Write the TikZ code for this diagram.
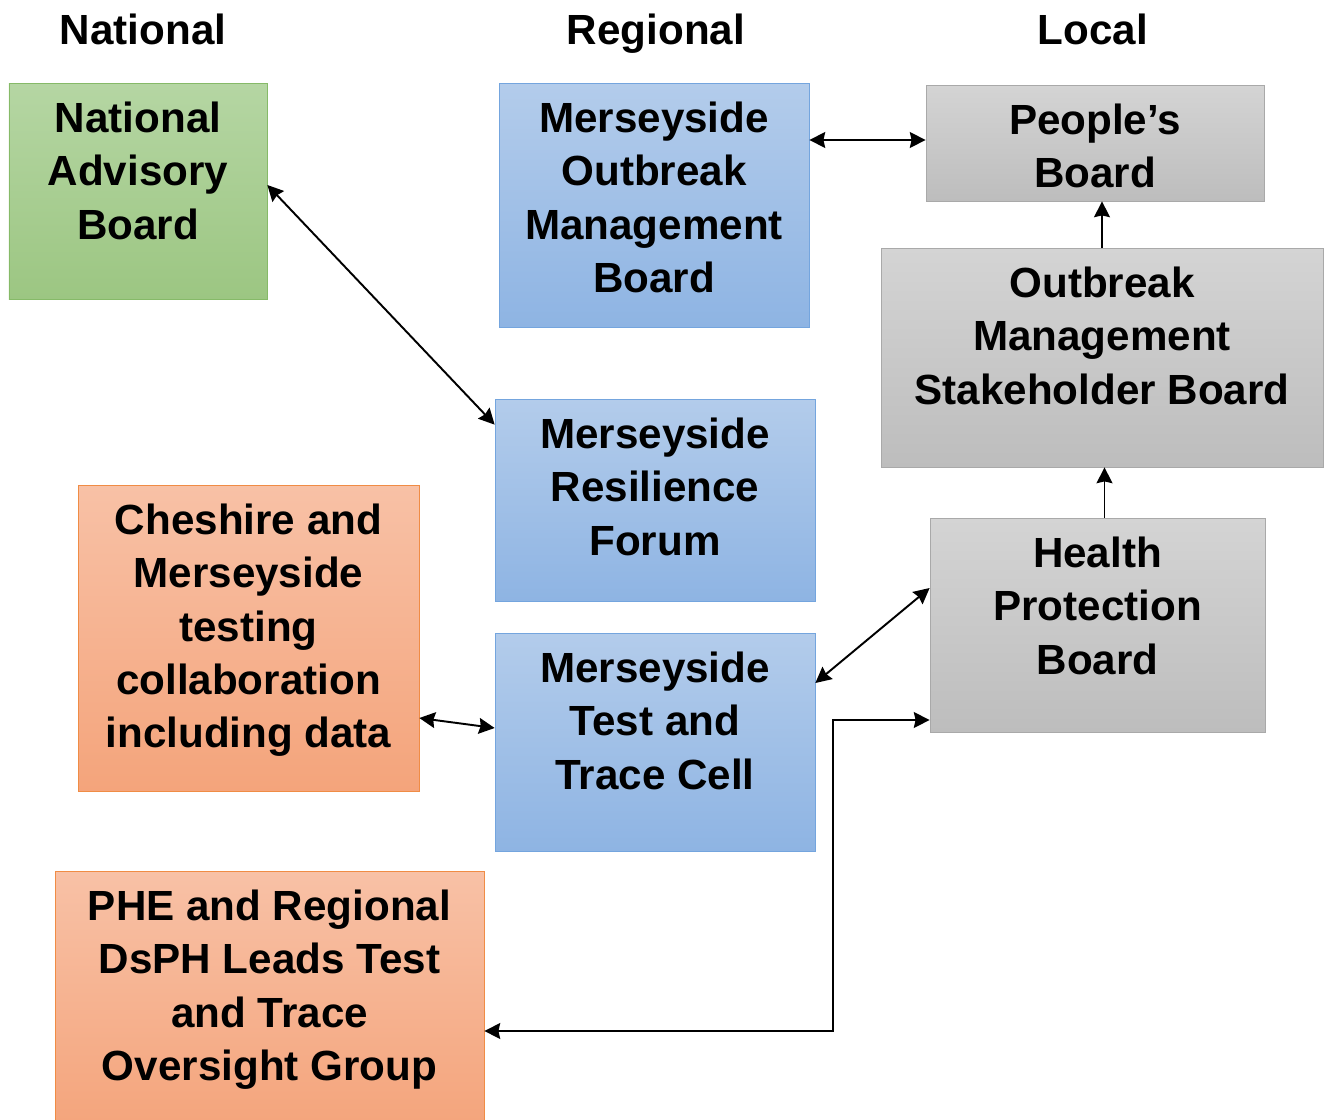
\documentclass[tikz,border=0pt]{standalone}
\usepackage{fontspec}
\setmainfont{Liberation Sans}
\usepackage{tikz}
\usetikzlibrary{arrows.meta}
\definecolor{greenTop}{HTML}{B5D6A3}
\definecolor{greenBottom}{HTML}{9CC682}
\definecolor{greenLine}{HTML}{86BA68}
\definecolor{blueTop}{HTML}{B3CCEB}
\definecolor{blueBottom}{HTML}{8EB4E3}
\definecolor{blueLine}{HTML}{74A5DE}
\definecolor{grayTop}{HTML}{D4D4D4}
\definecolor{grayBottom}{HTML}{BDBDBD}
\definecolor{grayLine}{HTML}{A9A9A9}
\definecolor{orangeTop}{HTML}{F8C1A6}
\definecolor{orangeBottom}{HTML}{F4A47B}
\definecolor{orangeLine}{HTML}{F08C45}
\tikzstyle{national} = [rectangle, draw=greenLine, top color=greenTop, bottom color=greenBottom]
\tikzstyle{regional} = [rectangle, draw=blueLine, top color=blueTop, bottom color=blueBottom]
\tikzstyle{local} = [rectangle, draw=grayLine, top color=grayTop, bottom color=grayBottom]
\tikzstyle{testing} = [rectangle, draw=orangeLine, top color=orangeTop, bottom color=orangeBottom]
\tikzstyle{boardText} = [anchor=north, yshift=-0.38cm, inner sep=0pt, align=center, font=\fontsize{24}{30.3}\selectfont\bfseries]
\tikzstyle{heading} = [anchor=base, inner sep=0pt, font=\fontsize{24}{30}\selectfont\bfseries]
\tikzstyle{connector} = [draw, line width=1.1pt, -{Stealth[length=9pt,width=9pt,inset=1pt]}]
\tikzstyle{biConnector} = [draw, line width=1.1pt, {Stealth[length=9pt,width=9pt,inset=1pt]}-{Stealth[length=9pt,width=9pt,inset=1pt]}]
\begin{document}
\begin{tikzpicture}
\useasboundingbox (0,0) rectangle (26.52,-22.4);

\node[heading] at (2.86,-0.88) (headNational) {National};
\node[heading] at (13.12,-0.88) (headRegional) {Regional};
\node[heading] at (21.86,-0.88) (headLocal) {Local};

\node[national, minimum width=5.16cm, minimum height=4.32cm, label={[boardText]north:{National\\Advisory\\Board}}] at (2.76,-3.82) (nationalBoard) {};

\node[regional, minimum width=6.2cm, minimum height=4.88cm, label={[boardText]north:{Merseyside\\Outbreak\\Management\\Board}}] at (13.08,-4.1) (outbreakBoard) {};
\node[regional, minimum width=6.4cm, minimum height=4.04cm, label={[boardText]north:{Merseyside\\Resilience\\Forum}}] at (13.1,-10.0) (resilienceForum) {};
\node[regional, minimum width=6.4cm, minimum height=4.36cm, label={[boardText]north:{Merseyside\\Test and\\Trace Cell}}] at (13.1,-14.84) (testTraceCell) {};

\node[local, minimum width=6.76cm, minimum height=2.32cm, label={[boardText]north:{People’s\\Board}}] at (21.9,-2.86) (peoplesBoard) {};
\node[local, minimum width=8.84cm, minimum height=4.38cm, label={[boardText]north:{Outbreak\\Management\\Stakeholder Board}}] at (22.04,-7.15) (stakeholderBoard) {};
\node[local, minimum width=6.7cm, minimum height=4.28cm, label={[boardText]north:{Health\\Protection\\Board}}] at (21.95,-12.5) (healthBoard) {};

\node[testing, minimum width=6.82cm, minimum height=6.12cm, label={[boardText]north:{Cheshire and\\Merseyside\\testing\\collaboration\\including data}}] at (4.97,-12.76) (testingCollab) {};
\node[testing, minimum width=8.58cm, minimum height=5.2cm, label={[boardText]north:{PHE and Regional\\DsPH Leads Test\\and Trace\\Oversight Group}}] at (5.39,-20.02) (oversightGroup) {};

\coordinate (bend) at (16.66,-14.4);

\path [biConnector] ([yshift=0.12cm]nationalBoard.east) -- ([yshift=-0.52cm]resilienceForum.north west);
\path [biConnector] ([yshift=0.06cm]outbreakBoard.east |- peoplesBoard.west) -- ([yshift=0.06cm]peoplesBoard.west);
\path [connector] (stakeholderBoard.north) -- (stakeholderBoard.north |- peoplesBoard.south);
\path [connector] ([xshift=0.14cm]healthBoard.north) -- ([xshift=0.14cm]healthBoard.north |- stakeholderBoard.south);
\path [biConnector] ([yshift=1.18cm]testTraceCell.east) -- ([yshift=0.74cm]healthBoard.west);
\path [biConnector] ([yshift=-1.6cm]testingCollab.east) -- ([yshift=0.28cm]testTraceCell.west);
\path [biConnector] ([yshift=-0.6cm]oversightGroup.east) -| (bend) -- (healthBoard.west |- bend);

\end{tikzpicture}
\end{document}
